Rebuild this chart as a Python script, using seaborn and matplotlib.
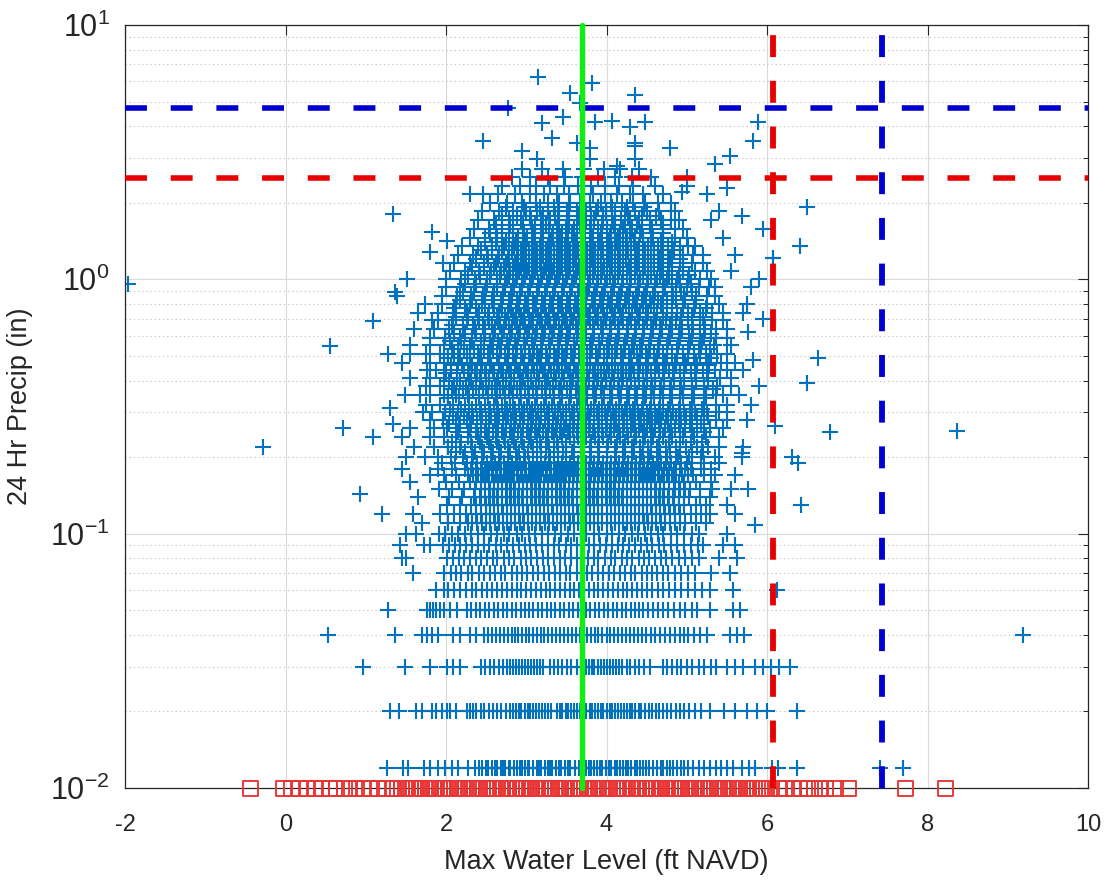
import numpy as np
import pandas as pd
import matplotlib
matplotlib.use("Agg")
import matplotlib.pyplot as plt
import seaborn as sns
from matplotlib.ticker import LogLocator, NullLocator, FixedLocator

# ---------------- data ----------------
# quantized low-precip rows: precip value -> water levels (ft NAVD)
low_precip = [0.012, 0.02, 0.03, 0.04, 0.05, 0.06, 0.07, 0.08, 0.09, 0.10]
low_levels = [
    [1.26, 1.47, 1.53, 1.72, 1.80, 1.90, 1.99, 2.08, 2.15, 2.28, 2.36, 2.41, 2.45, 2.50, 2.52, 2.57, 2.61, 2.63,
     2.68, 2.71, 2.73, 2.78, 2.80, 2.85, 2.89, 2.92, 2.95, 2.99, 3.02, 3.04, 3.09, 3.13, 3.16, 3.18, 3.23, 3.27,
     3.30, 3.32, 3.37, 3.41, 3.43, 3.48, 3.52, 3.55, 3.61, 3.66, 3.71, 3.74, 3.78, 3.81, 3.85, 3.88, 3.92, 3.95,
     3.99, 4.03, 4.06, 4.10, 4.13, 4.17, 4.20, 4.24, 4.27, 4.31, 4.35, 4.38, 4.42, 4.45, 4.49, 4.53, 4.58, 4.63,
     4.68, 4.71, 4.75, 4.79, 4.83, 4.88, 4.93, 4.96, 5.02, 5.08, 5.15, 5.21, 5.29, 5.36, 5.43, 5.50, 5.58, 5.69,
     5.77, 5.85, 6.06, 6.14, 6.37, 7.41, 7.70],
    [1.30, 1.42, 1.63, 1.70, 1.82, 1.88, 1.95, 2.01, 2.05, 2.13, 2.26, 2.30, 2.34, 2.38, 2.43, 2.47, 2.53, 2.58,
     2.64, 2.69, 2.75, 2.80, 2.84, 2.87, 2.91, 2.94, 2.98, 3.02, 3.05, 3.09, 3.12, 3.16, 3.20, 3.23, 3.27, 3.31,
     3.38, 3.42, 3.45, 3.49, 3.52, 3.56, 3.60, 3.63, 3.67, 3.71, 3.75, 3.79, 3.82, 3.86, 3.89, 3.93, 3.96, 4.00,
     4.04, 4.07, 4.11, 4.14, 4.18, 4.22, 4.25, 4.29, 4.32, 4.36, 4.40, 4.43, 4.48, 4.53, 4.57, 4.62, 4.66, 4.71,
     4.75, 4.80, 4.86, 4.91, 4.97, 5.03, 5.10, 5.18, 5.29, 5.46, 5.60, 5.75, 5.87, 6.00, 6.37],
    [0.97, 1.49, 1.80, 2.01, 2.09, 2.17, 2.44, 2.49, 2.55, 2.60, 2.66, 2.71, 2.76, 2.80, 2.84, 2.87, 2.91, 2.95,
     2.98, 3.02, 3.06, 3.10, 3.13, 3.17, 3.21, 3.29, 3.34, 3.40, 3.45, 3.51, 3.56, 3.63, 3.71, 3.74, 3.78, 3.82,
     3.85, 3.89, 3.93, 3.97, 4.00, 4.04, 4.08, 4.12, 4.15, 4.19, 4.25, 4.29, 4.35, 4.41, 4.47, 4.54, 4.71, 4.76,
     4.82, 4.88, 4.93, 5.00, 5.07, 5.15, 5.22, 5.30, 5.37, 5.50, 5.60, 5.70, 5.85, 5.95, 6.05, 6.15, 6.29],
    [0.53, 1.36, 1.70, 1.76, 1.83, 1.90, 2.09, 2.17, 2.30, 2.38, 2.47, 2.52, 2.57, 2.62, 2.67, 2.72, 2.77, 2.82,
     2.86, 2.90, 2.95, 3.00, 3.04, 3.09, 3.13, 3.18, 3.22, 3.27, 3.32, 3.37, 3.42, 3.47, 3.52, 3.57, 3.62, 3.67,
     3.72, 3.76, 3.81, 3.86, 3.90, 3.95, 4.00, 4.04, 4.09, 4.14, 4.19, 4.24, 4.29, 4.34, 4.39, 4.44, 4.49, 4.55,
     4.61, 4.67, 4.73, 4.79, 4.85, 4.91, 4.96, 5.02, 5.09, 5.16, 5.25, 5.54, 5.62, 5.71, 9.19],
    [1.28, 1.76, 1.80, 1.84, 1.88, 1.93, 1.97, 2.05, 2.14, 2.26, 2.31, 2.37, 2.42, 2.48, 2.54, 2.60, 2.65, 2.71,
     2.76, 2.82, 2.87, 2.93, 2.98, 3.04, 3.09, 3.15, 3.20, 3.26, 3.31, 3.36, 3.42, 3.47, 3.53, 3.58, 3.64, 3.69,
     3.75, 3.80, 3.86, 3.91, 3.97, 4.02, 4.08, 4.13, 4.19, 4.24, 4.30, 4.35, 4.41, 4.46, 4.52, 4.58, 4.64, 4.70,
     4.77, 4.84, 4.91, 4.98, 5.06, 5.13, 5.29, 5.58, 5.66],
    [1.88, 1.97, 2.03, 2.10, 2.18, 2.25, 2.32, 2.38, 2.45, 2.51, 2.57, 2.63, 2.70, 2.76, 2.82, 2.88, 2.94, 3.00,
     3.06, 3.12, 3.18, 3.24, 3.30, 3.36, 3.42, 3.48, 3.54, 3.60, 3.66, 3.72, 3.78, 3.84, 3.90, 3.96, 4.02, 4.08,
     4.14, 4.20, 4.26, 4.32, 4.38, 4.44, 4.50, 4.57, 4.64, 4.71, 4.78, 4.85, 4.93, 5.01, 5.10, 5.19, 5.29, 5.58, 6.12],
    [1.59, 1.98, 2.06, 2.13, 2.19, 2.27, 2.33, 2.41, 2.47, 2.55, 2.61, 2.68, 2.74, 2.82, 2.88, 2.95, 3.01, 3.09,
     3.15, 3.22, 3.28, 3.36, 3.42, 3.49, 3.55, 3.63, 3.69, 3.76, 3.82, 3.90, 3.96, 4.03, 4.09, 4.17, 4.23, 4.30,
     4.36, 4.44, 4.50, 4.57, 4.63, 4.71, 4.77, 4.85, 4.93, 5.02, 5.10, 5.30, 5.54],
    [1.45, 1.50, 2.01, 2.09, 2.16, 2.22, 2.30, 2.37, 2.43, 2.51, 2.58, 2.64, 2.72, 2.79, 2.85, 2.93, 3.00, 3.06,
     3.14, 3.21, 3.27, 3.35, 3.42, 3.48, 3.56, 3.63, 3.69, 3.77, 3.84, 3.90, 3.98, 4.05, 4.11, 4.19, 4.26, 4.32,
     4.40, 4.47, 4.53, 4.61, 4.68, 4.74, 4.82, 4.90, 4.98, 5.07, 5.15, 5.40, 5.63],
    [1.43, 1.72, 1.80, 1.96, 2.04, 2.11, 2.18, 2.25, 2.33, 2.40, 2.47, 2.54, 2.62, 2.69, 2.76, 2.83, 2.91, 2.98,
     3.05, 3.12, 3.20, 3.27, 3.34, 3.41, 3.49, 3.56, 3.63, 3.70, 3.78, 3.85, 3.92, 3.99, 4.07, 4.14, 4.21, 4.28,
     4.36, 4.43, 4.50, 4.57, 4.65, 4.72, 4.80, 4.88, 4.96, 5.05, 5.14, 5.20, 5.45, 5.60],
    [1.50, 1.62, 1.91, 1.99, 2.08, 2.15, 2.24, 2.31, 2.40, 2.47, 2.56, 2.63, 2.72, 2.79, 2.88, 2.95, 3.04, 3.11,
     3.20, 3.27, 3.36, 3.43, 3.52, 3.59, 3.68, 3.75, 3.84, 3.91, 4.00, 4.07, 4.16, 4.23, 4.32, 4.39, 4.48, 4.55,
     4.64, 4.71, 4.80, 4.88, 4.97, 5.06, 5.15, 5.50],
]

# main cloud (outer envelope): precip value -> water levels
cloud_precip = [0.11, 0.12, 0.13, 0.14, 0.15, 0.16, 0.17, 0.18, 0.19, 0.20, 0.22, 0.24, 0.26, 0.28, 0.30,
                0.32, 0.35, 0.38, 0.41, 0.44, 0.47, 0.51, 0.55, 0.59, 0.64, 0.69, 0.74, 0.80, 0.86, 0.93,
                1.00, 1.08, 1.16, 1.25, 1.35, 1.46, 1.58, 1.71, 1.85, 2.00, 2.16, 2.33, 2.52, 2.72]
cloud_levels = [
    [1.70, 2.02, 2.18, 2.33, 2.45, 2.55, 2.66, 2.76, 2.86, 2.97, 3.07, 3.17, 3.28, 3.38, 3.48, 3.59, 3.69, 3.79, 3.90, 4.00, 4.10, 4.21, 4.31, 4.41, 4.52, 4.62, 4.73, 4.85, 4.98, 5.12, 5.24],
    [1.93, 2.10, 2.25, 2.38, 2.50, 2.60, 2.71, 2.81, 2.91, 3.02, 3.12, 3.22, 3.33, 3.43, 3.53, 3.64, 3.74, 3.84, 3.95, 4.05, 4.15, 4.26, 4.36, 4.46, 4.57, 4.67, 4.79, 4.92, 5.05, 5.18, 5.29, 5.60],
    [2.01, 2.17, 2.31, 2.44, 2.55, 2.65, 2.76, 2.86, 2.96, 3.07, 3.17, 3.27, 3.38, 3.48, 3.58, 3.69, 3.79, 3.89, 4.00, 4.10, 4.20, 4.31, 4.41, 4.51, 4.62, 4.72, 4.84, 4.97, 5.11, 5.24, 5.50],
    [1.65, 2.04, 2.20, 2.35, 2.48, 2.59, 2.70, 2.80, 2.90, 3.01, 3.11, 3.21, 3.32, 3.42, 3.52, 3.63, 3.73, 3.83, 3.94, 4.04, 4.14, 4.25, 4.35, 4.45, 4.56, 4.66, 4.77, 4.90, 5.03, 5.16, 5.29],
    [1.91, 2.07, 2.22, 2.36, 2.49, 2.60, 2.70, 2.81, 2.91, 3.01, 3.12, 3.22, 3.32, 3.43, 3.53, 3.63, 3.74, 3.84, 3.94, 4.05, 4.15, 4.25, 4.36, 4.46, 4.56, 4.67, 4.78, 4.91, 5.04, 5.17, 5.31, 5.55, 5.76],
    [1.55, 2.00, 2.16, 2.30, 2.43, 2.54, 2.65, 2.75, 2.85, 2.96, 3.06, 3.16, 3.27, 3.37, 3.47, 3.58, 3.68, 3.78, 3.89, 3.99, 4.09, 4.20, 4.30, 4.40, 4.51, 4.61, 4.72, 4.84, 4.97, 5.12, 5.30],
    [1.80, 1.98, 2.13, 2.27, 2.40, 2.51, 2.62, 2.72, 2.82, 2.93, 3.03, 3.13, 3.24, 3.34, 3.44, 3.55, 3.65, 3.75, 3.86, 3.96, 4.06, 4.17, 4.27, 4.37, 4.48, 4.58, 4.69, 4.81, 4.94, 5.08, 5.22, 5.35, 5.60],
    [1.45, 1.90, 2.08, 2.24, 2.37, 2.49, 2.59, 2.69, 2.80, 2.90, 3.00, 3.11, 3.21, 3.31, 3.42, 3.52, 3.62, 3.73, 3.83, 3.93, 4.04, 4.14, 4.24, 4.35, 4.45, 4.55, 4.66, 4.78, 4.91, 5.05, 5.18, 5.30],
    [1.95, 2.11, 2.26, 2.39, 2.51, 2.61, 2.72, 2.82, 2.92, 3.03, 3.13, 3.23, 3.34, 3.44, 3.54, 3.65, 3.75, 3.85, 3.96, 4.06, 4.16, 4.27, 4.37, 4.47, 4.58, 4.68, 4.80, 4.93, 5.07, 5.22, 5.40],
    [1.50, 1.74, 1.90, 2.06, 2.21, 2.34, 2.46, 2.57, 2.67, 2.77, 2.88, 2.98, 3.08, 3.19, 3.29, 3.39, 3.50, 3.60, 3.70, 3.81, 3.91, 4.01, 4.12, 4.22, 4.32, 4.43, 4.53, 4.64, 4.76, 4.89, 5.03, 5.18, 5.35, 5.69],
    [1.60, 1.85, 2.02, 2.18, 2.32, 2.45, 2.56, 2.66, 2.77, 2.87, 2.97, 3.08, 3.18, 3.28, 3.39, 3.49, 3.59, 3.70, 3.80, 3.90, 4.01, 4.11, 4.21, 4.32, 4.42, 4.52, 4.63, 4.74, 4.86, 4.99, 5.13, 5.27, 5.40, 5.70],
    [1.45, 1.80, 1.97, 2.13, 2.27, 2.40, 2.51, 2.62, 2.72, 2.82, 2.93, 3.03, 3.13, 3.24, 3.34, 3.44, 3.55, 3.65, 3.75, 3.86, 3.96, 4.06, 4.17, 4.27, 4.37, 4.48, 4.58, 4.70, 4.82, 4.95, 5.09, 5.24, 5.40],
    [1.55, 1.85, 2.01, 2.16, 2.30, 2.43, 2.54, 2.65, 2.75, 2.85, 2.96, 3.06, 3.16, 3.27, 3.37, 3.47, 3.58, 3.68, 3.78, 3.89, 3.99, 4.09, 4.20, 4.30, 4.40, 4.51, 4.61, 4.73, 4.85, 4.98, 5.13, 5.29, 5.45],
    [1.80, 1.96, 2.12, 2.26, 2.39, 2.50, 2.61, 2.71, 2.81, 2.92, 3.02, 3.12, 3.23, 3.33, 3.43, 3.54, 3.64, 3.74, 3.85, 3.95, 4.05, 4.16, 4.26, 4.36, 4.47, 4.57, 4.68, 4.80, 4.93, 5.07, 5.22, 5.37, 5.50, 5.75],
    [1.71, 1.82, 1.99, 2.15, 2.29, 2.42, 2.53, 2.64, 2.74, 2.84, 2.95, 3.05, 3.15, 3.26, 3.36, 3.46, 3.57, 3.67, 3.77, 3.88, 3.98, 4.08, 4.19, 4.29, 4.39, 4.50, 4.60, 4.71, 4.83, 4.96, 5.10, 5.25, 5.40, 5.50],
    [1.75, 1.92, 2.09, 2.24, 2.37, 2.49, 2.60, 2.70, 2.80, 2.91, 3.01, 3.11, 3.22, 3.32, 3.42, 3.53, 3.63, 3.73, 3.84, 3.94, 4.04, 4.15, 4.25, 4.35, 4.46, 4.56, 4.67, 4.79, 4.92, 5.06, 5.21, 5.36, 5.50, 5.80],
    [1.49, 1.68, 1.80, 1.97, 2.13, 2.28, 2.41, 2.52, 2.63, 2.73, 2.83, 2.94, 3.04, 3.14, 3.25, 3.35, 3.45, 3.56, 3.66, 3.76, 3.87, 3.97, 4.07, 4.18, 4.28, 4.38, 4.49, 4.59, 4.70, 4.82, 4.95, 5.09, 5.24, 5.37, 5.45, 5.65],
    [1.75, 1.93, 2.10, 2.25, 2.38, 2.50, 2.61, 2.71, 2.81, 2.92, 3.02, 3.12, 3.23, 3.33, 3.43, 3.54, 3.64, 3.74, 3.85, 3.95, 4.05, 4.16, 4.26, 4.36, 4.47, 4.57, 4.68, 4.80, 4.93, 5.07, 5.22, 5.38, 5.55, 5.90],
    [1.55, 1.80, 1.98, 2.14, 2.29, 2.42, 2.54, 2.65, 2.75, 2.85, 2.96, 3.06, 3.16, 3.27, 3.37, 3.47, 3.58, 3.68, 3.78, 3.89, 3.99, 4.09, 4.20, 4.30, 4.40, 4.51, 4.61, 4.72, 4.84, 4.97, 5.11, 5.26, 5.41, 5.55],
    [1.76, 1.88, 2.06, 2.22, 2.36, 2.48, 2.59, 2.69, 2.79, 2.90, 3.00, 3.10, 3.21, 3.31, 3.41, 3.52, 3.62, 3.72, 3.83, 3.93, 4.03, 4.14, 4.24, 4.34, 4.45, 4.55, 4.66, 4.78, 4.91, 5.05, 5.20, 5.35, 5.50, 5.70],
    [1.45, 1.80, 1.98, 2.15, 2.30, 2.43, 2.55, 2.66, 2.76, 2.86, 2.97, 3.07, 3.17, 3.28, 3.38, 3.48, 3.59, 3.69, 3.79, 3.90, 4.00, 4.10, 4.21, 4.31, 4.41, 4.52, 4.62, 4.73, 4.85, 4.98, 5.12, 5.27, 5.43, 5.60],
    [1.28, 1.55, 1.75, 1.93, 2.10, 2.26, 2.40, 2.52, 2.63, 2.73, 2.83, 2.94, 3.04, 3.14, 3.25, 3.35, 3.45, 3.56, 3.66, 3.76, 3.87, 3.97, 4.07, 4.18, 4.28, 4.38, 4.49, 4.59, 4.70, 4.82, 4.95, 5.09, 5.24, 5.38, 5.50],
    [1.55, 1.80, 1.98, 2.15, 2.30, 2.44, 2.56, 2.67, 2.77, 2.87, 2.98, 3.08, 3.18, 3.29, 3.39, 3.49, 3.60, 3.70, 3.80, 3.91, 4.01, 4.11, 4.22, 4.32, 4.42, 4.53, 4.64, 4.76, 4.89, 5.03, 5.18, 5.34, 5.55],
    [1.80, 1.99, 2.17, 2.33, 2.47, 2.59, 2.70, 2.80, 2.90, 3.01, 3.11, 3.21, 3.32, 3.42, 3.52, 3.63, 3.73, 3.83, 3.94, 4.04, 4.14, 4.25, 4.35, 4.45, 4.56, 4.67, 4.79, 4.92, 5.06, 5.21, 5.36, 5.50],
    [1.60, 1.85, 2.04, 2.21, 2.36, 2.49, 2.61, 2.72, 2.82, 2.92, 3.03, 3.13, 3.23, 3.34, 3.44, 3.54, 3.65, 3.75, 3.85, 3.96, 4.06, 4.16, 4.27, 4.37, 4.47, 4.58, 4.69, 4.81, 4.94, 5.08, 5.23, 5.37, 5.50],
    [1.83, 1.90, 2.09, 2.26, 2.41, 2.54, 2.65, 2.75, 2.86, 2.96, 3.06, 3.17, 3.27, 3.37, 3.48, 3.58, 3.68, 3.79, 3.89, 3.99, 4.10, 4.20, 4.30, 4.41, 4.51, 4.62, 4.74, 4.87, 5.01, 5.16, 5.31, 5.45],
    [1.65, 1.90, 2.09, 2.26, 2.41, 2.54, 2.66, 2.77, 2.87, 2.97, 3.08, 3.18, 3.28, 3.39, 3.49, 3.59, 3.70, 3.80, 3.90, 4.01, 4.11, 4.21, 4.32, 4.42, 4.52, 4.63, 4.75, 4.88, 5.02, 5.17, 5.32, 5.45, 5.70],
    [1.74, 1.95, 2.13, 2.30, 2.45, 2.58, 2.69, 2.80, 2.90, 3.00, 3.11, 3.21, 3.31, 3.42, 3.52, 3.62, 3.73, 3.83, 3.93, 4.04, 4.14, 4.24, 4.35, 4.45, 4.56, 4.68, 4.81, 4.95, 5.10, 5.25, 5.40, 5.75],
    [1.39, 1.95, 2.14, 2.31, 2.46, 2.59, 2.71, 2.82, 2.92, 3.02, 3.13, 3.23, 3.33, 3.44, 3.54, 3.64, 3.75, 3.85, 3.95, 4.06, 4.16, 4.26, 4.37, 4.47, 4.58, 4.70, 4.83, 4.97, 5.12, 5.25, 5.35],
    [2.00, 2.18, 2.35, 2.50, 2.63, 2.74, 2.85, 2.95, 3.05, 3.16, 3.26, 3.36, 3.47, 3.57, 3.67, 3.78, 3.88, 3.98, 4.09, 4.19, 4.29, 4.40, 4.50, 4.61, 4.73, 4.86, 5.00, 5.15, 5.28, 5.35, 5.80],
    [1.51, 2.00, 2.19, 2.36, 2.51, 2.64, 2.76, 2.87, 2.97, 3.07, 3.18, 3.28, 3.38, 3.49, 3.59, 3.69, 3.80, 3.90, 4.00, 4.11, 4.21, 4.31, 4.42, 4.52, 4.63, 4.75, 4.88, 5.02, 5.17, 5.30, 5.90],
    [2.05, 2.24, 2.41, 2.56, 2.69, 2.80, 2.91, 3.01, 3.11, 3.22, 3.32, 3.42, 3.53, 3.63, 3.73, 3.84, 3.94, 4.04, 4.15, 4.25, 4.35, 4.46, 4.56, 4.68, 4.81, 4.95, 5.10, 5.25, 5.55],
    [1.96, 2.10, 2.30, 2.47, 2.62, 2.75, 2.86, 2.96, 3.07, 3.17, 3.27, 3.38, 3.48, 3.58, 3.69, 3.79, 3.89, 4.00, 4.10, 4.20, 4.31, 4.41, 4.52, 4.64, 4.77, 4.91, 5.06, 5.20],
    [2.15, 2.34, 2.51, 2.66, 2.79, 2.90, 3.00, 3.11, 3.21, 3.31, 3.42, 3.52, 3.62, 3.73, 3.83, 3.93, 4.04, 4.14, 4.24, 4.35, 4.45, 4.56, 4.68, 4.81, 4.95, 5.08, 5.20, 5.60],
    [2.20, 2.40, 2.57, 2.72, 2.85, 2.96, 3.07, 3.17, 3.27, 3.38, 3.48, 3.58, 3.69, 3.79, 3.89, 4.00, 4.10, 4.20, 4.31, 4.41, 4.52, 4.64, 4.77, 4.91, 5.02, 5.10],
    [2.30, 2.48, 2.64, 2.78, 2.90, 3.01, 3.11, 3.21, 3.32, 3.42, 3.52, 3.63, 3.73, 3.83, 3.94, 4.04, 4.14, 4.25, 4.35, 4.46, 4.58, 4.71, 4.85, 5.00, 5.45],
    [2.35, 2.54, 2.70, 2.84, 2.96, 3.07, 3.18, 3.28, 3.38, 3.49, 3.59, 3.69, 3.80, 3.90, 4.00, 4.11, 4.21, 4.32, 4.44, 4.57, 4.71, 4.85, 4.95],
    [2.40, 2.60, 2.78, 2.93, 3.06, 3.18, 3.30, 3.41, 3.52, 3.63, 3.74, 3.85, 3.96, 4.07, 4.18, 4.29, 4.41, 4.54, 4.68, 4.80, 4.90, 5.30],
    [2.45, 2.66, 2.84, 3.00, 3.14, 3.27, 3.39, 3.51, 3.63, 3.75, 3.87, 3.99, 4.11, 4.23, 4.36, 4.50, 4.65, 4.85, 5.40],
    [2.55, 2.76, 2.95, 3.12, 3.27, 3.41, 3.54, 3.67, 3.80, 3.93, 4.06, 4.19, 4.33, 4.48, 4.64, 4.80],
    [2.30, 2.46, 2.65, 2.86, 3.05, 3.22, 3.38, 3.53, 3.68, 3.83, 3.98, 4.13, 4.29, 4.46, 4.70, 5.25],
    [2.70, 2.92, 3.12, 3.30, 3.47, 3.64, 3.81, 3.98, 4.15, 4.33, 4.60, 5.00],
    [2.82, 3.05, 3.27, 3.48, 3.69, 3.90, 4.11, 4.32, 4.55, 5.00],
    [2.95, 3.20, 3.46, 3.72, 3.97, 4.17, 4.40],
]

# main cloud (dense core): precip value -> water levels
core_precip = [0.11, 0.12, 0.13, 0.14, 0.15, 0.16, 0.17, 0.18, 0.19, 0.21, 0.23, 0.25, 0.27, 0.29, 0.31,
               0.34, 0.37, 0.40, 0.43, 0.46, 0.49, 0.53, 0.57, 0.61, 0.66, 0.71, 0.77, 0.83, 0.89, 0.96,
               1.04, 1.12, 1.20, 1.30, 1.40, 1.52, 1.64, 1.78, 1.92]
core_levels = [
    [2.28, 2.39, 2.50, 2.61, 2.71, 2.81, 2.92, 3.02, 3.12, 3.23, 3.33, 3.43, 3.54, 3.64, 3.74, 3.85, 3.95, 4.05, 4.16, 4.26, 4.36, 4.47, 4.57, 4.68, 4.79, 4.91],
    [2.44, 2.55, 2.65, 2.76, 2.86, 2.96, 3.07, 3.17, 3.27, 3.38, 3.48, 3.58, 3.69, 3.79, 3.89, 4.00, 4.10, 4.20, 4.31, 4.41, 4.51, 4.62, 4.73, 4.85],
    [2.37, 2.50, 2.60, 2.70, 2.81, 2.91, 3.01, 3.12, 3.22, 3.32, 3.43, 3.53, 3.63, 3.74, 3.84, 3.94, 4.05, 4.15, 4.25, 4.36, 4.46, 4.56, 4.67, 4.78, 4.90],
    [2.42, 2.54, 2.64, 2.75, 2.85, 2.95, 3.06, 3.16, 3.26, 3.37, 3.47, 3.57, 3.68, 3.78, 3.88, 3.99, 4.09, 4.19, 4.30, 4.40, 4.50, 4.61, 4.71, 4.83, 4.96],
    [2.43, 2.55, 2.65, 2.76, 2.86, 2.96, 3.07, 3.17, 3.27, 3.38, 3.48, 3.58, 3.69, 3.79, 3.89, 4.00, 4.10, 4.20, 4.31, 4.41, 4.51, 4.62, 4.72, 4.85, 4.98],
    [2.37, 2.49, 2.60, 2.70, 2.80, 2.91, 3.01, 3.11, 3.22, 3.32, 3.42, 3.53, 3.63, 3.73, 3.84, 3.94, 4.04, 4.15, 4.25, 4.35, 4.46, 4.56, 4.67, 4.78, 4.90],
    [2.34, 2.46, 2.57, 2.67, 2.77, 2.88, 2.98, 3.08, 3.19, 3.29, 3.39, 3.50, 3.60, 3.70, 3.81, 3.91, 4.01, 4.12, 4.22, 4.32, 4.43, 4.53, 4.64, 4.75, 4.87, 5.01],
    [2.31, 2.43, 2.54, 2.64, 2.75, 2.85, 2.95, 3.06, 3.16, 3.26, 3.37, 3.47, 3.57, 3.68, 3.78, 3.88, 3.99, 4.09, 4.19, 4.30, 4.40, 4.50, 4.61, 4.72, 4.84, 4.98],
    [2.33, 2.45, 2.56, 2.66, 2.77, 2.87, 2.97, 3.08, 3.18, 3.28, 3.39, 3.49, 3.59, 3.70, 3.80, 3.90, 4.01, 4.11, 4.21, 4.32, 4.42, 4.52, 4.63, 4.74, 4.86, 5.00],
    [2.12, 2.24, 2.36, 2.47, 2.58, 2.69, 2.80, 2.91, 3.02, 3.13, 3.24, 3.35, 3.46, 3.57, 3.68, 3.79, 3.90, 4.01, 4.12, 4.23, 4.34, 4.45, 4.56, 4.67, 4.79, 4.92, 5.06, 5.20],
    [2.07, 2.19, 2.31, 2.42, 2.53, 2.63, 2.74, 2.85, 2.95, 3.06, 3.17, 3.27, 3.38, 3.49, 3.59, 3.70, 3.81, 3.91, 4.02, 4.13, 4.23, 4.34, 4.45, 4.55, 4.66, 4.78, 4.91, 5.05, 5.19],
    [2.15, 2.27, 2.38, 2.49, 2.59, 2.70, 2.80, 2.90, 3.01, 3.11, 3.21, 3.32, 3.42, 3.52, 3.63, 3.73, 3.83, 3.94, 4.04, 4.14, 4.25, 4.35, 4.45, 4.56, 4.67, 4.79, 4.92, 5.07, 5.22],
    [2.04, 2.18, 2.31, 2.43, 2.54, 2.64, 2.75, 2.86, 2.96, 3.07, 3.17, 3.28, 3.38, 3.49, 3.59, 3.70, 3.80, 3.91, 4.01, 4.12, 4.22, 4.33, 4.43, 4.54, 4.65, 4.77, 4.90, 5.04, 5.18],
    [2.09, 2.22, 2.34, 2.45, 2.56, 2.66, 2.77, 2.87, 2.97, 3.08, 3.18, 3.28, 3.39, 3.49, 3.59, 3.70, 3.80, 3.90, 4.01, 4.11, 4.21, 4.32, 4.42, 4.52, 4.63, 4.74, 4.86, 4.99, 5.13, 5.27],
    [2.05, 2.19, 2.32, 2.44, 2.55, 2.65, 2.76, 2.86, 2.97, 3.07, 3.18, 3.28, 3.39, 3.49, 3.60, 3.70, 3.81, 3.91, 4.02, 4.12, 4.23, 4.33, 4.44, 4.54, 4.65, 4.77, 4.90, 5.04, 5.19],
    [2.02, 2.16, 2.29, 2.41, 2.52, 2.62, 2.73, 2.83, 2.93, 3.04, 3.14, 3.24, 3.35, 3.45, 3.55, 3.66, 3.76, 3.86, 3.97, 4.07, 4.17, 4.28, 4.38, 4.48, 4.59, 4.70, 4.82, 4.95, 5.09, 5.24],
    [2.07, 2.21, 2.34, 2.46, 2.57, 2.67, 2.78, 2.88, 2.99, 3.09, 3.20, 3.30, 3.41, 3.51, 3.62, 3.72, 3.83, 3.93, 4.04, 4.14, 4.25, 4.35, 4.46, 4.56, 4.67, 4.79, 4.92, 5.06, 5.21, 5.33],
    [2.04, 2.18, 2.31, 2.43, 2.54, 2.64, 2.75, 2.85, 2.95, 3.06, 3.16, 3.26, 3.37, 3.47, 3.57, 3.68, 3.78, 3.88, 3.99, 4.09, 4.19, 4.30, 4.40, 4.50, 4.61, 4.72, 4.84, 4.97, 5.12, 5.27],
    [2.00, 2.14, 2.27, 2.39, 2.50, 2.60, 2.71, 2.81, 2.92, 3.02, 3.13, 3.23, 3.34, 3.44, 3.55, 3.65, 3.76, 3.86, 3.97, 4.07, 4.18, 4.28, 4.39, 4.49, 4.60, 4.71, 4.83, 4.96, 5.10, 5.25],
    [2.06, 2.20, 2.33, 2.45, 2.56, 2.66, 2.77, 2.87, 2.97, 3.08, 3.18, 3.28, 3.39, 3.49, 3.59, 3.70, 3.80, 3.90, 4.01, 4.11, 4.21, 4.32, 4.42, 4.52, 4.63, 4.74, 4.86, 4.99, 5.13, 5.28],
    [2.03, 2.17, 2.30, 2.42, 2.53, 2.63, 2.74, 2.84, 2.95, 3.05, 3.16, 3.26, 3.37, 3.47, 3.58, 3.68, 3.79, 3.89, 4.00, 4.10, 4.21, 4.31, 4.42, 4.52, 4.63, 4.75, 4.88, 5.02, 5.17, 5.30],
    [2.08, 2.22, 2.35, 2.47, 2.58, 2.68, 2.79, 2.89, 2.99, 3.10, 3.20, 3.30, 3.41, 3.51, 3.61, 3.72, 3.82, 3.92, 4.03, 4.13, 4.23, 4.34, 4.44, 4.54, 4.65, 4.76, 4.88, 5.01, 5.15, 5.29],
    [2.05, 2.19, 2.32, 2.44, 2.55, 2.65, 2.76, 2.86, 2.97, 3.07, 3.18, 3.28, 3.39, 3.49, 3.60, 3.70, 3.81, 3.91, 4.02, 4.12, 4.23, 4.33, 4.44, 4.54, 4.65, 4.77, 4.90, 5.04, 5.19],
    [2.10, 2.24, 2.37, 2.49, 2.60, 2.70, 2.81, 2.91, 3.01, 3.12, 3.22, 3.32, 3.43, 3.53, 3.63, 3.74, 3.84, 3.94, 4.05, 4.15, 4.25, 4.36, 4.46, 4.56, 4.67, 4.78, 4.90, 5.03, 5.17, 5.30],
    [2.07, 2.21, 2.34, 2.46, 2.57, 2.67, 2.78, 2.88, 2.99, 3.09, 3.20, 3.30, 3.41, 3.51, 3.62, 3.72, 3.83, 3.93, 4.04, 4.14, 4.25, 4.35, 4.46, 4.56, 4.67, 4.79, 4.92, 5.06, 5.21],
    [2.13, 2.27, 2.40, 2.52, 2.63, 2.73, 2.84, 2.94, 3.04, 3.15, 3.25, 3.35, 3.46, 3.56, 3.66, 3.77, 3.87, 3.97, 4.08, 4.18, 4.28, 4.39, 4.49, 4.59, 4.70, 4.81, 4.93, 5.06, 5.20],
    [2.10, 2.24, 2.37, 2.49, 2.60, 2.70, 2.81, 2.91, 3.02, 3.12, 3.23, 3.33, 3.44, 3.54, 3.65, 3.75, 3.86, 3.96, 4.07, 4.17, 4.28, 4.38, 4.49, 4.59, 4.70, 4.82, 4.95, 5.09, 5.24],
    [2.18, 2.32, 2.45, 2.57, 2.68, 2.78, 2.89, 2.99, 3.09, 3.20, 3.30, 3.40, 3.51, 3.61, 3.71, 3.82, 3.92, 4.02, 4.13, 4.23, 4.33, 4.44, 4.54, 4.64, 4.75, 4.86, 4.98, 5.11],
    [2.21, 2.35, 2.48, 2.60, 2.71, 2.81, 2.92, 3.02, 3.13, 3.23, 3.34, 3.44, 3.55, 3.65, 3.76, 3.86, 3.97, 4.07, 4.18, 4.28, 4.39, 4.49, 4.60, 4.70, 4.81, 4.93, 5.06],
    [2.24, 2.38, 2.51, 2.63, 2.74, 2.84, 2.95, 3.05, 3.15, 3.26, 3.36, 3.46, 3.57, 3.67, 3.77, 3.88, 3.98, 4.08, 4.19, 4.29, 4.39, 4.50, 4.60, 4.70, 4.81, 4.92, 5.05],
    [2.28, 2.42, 2.55, 2.67, 2.78, 2.88, 2.99, 3.09, 3.20, 3.30, 3.41, 3.51, 3.62, 3.72, 3.83, 3.93, 4.04, 4.14, 4.25, 4.35, 4.46, 4.56, 4.67, 4.78, 4.90, 5.03],
    [2.33, 2.47, 2.60, 2.72, 2.83, 2.93, 3.04, 3.14, 3.24, 3.35, 3.45, 3.55, 3.66, 3.76, 3.86, 3.97, 4.07, 4.17, 4.28, 4.38, 4.48, 4.59, 4.70, 4.82, 4.95],
    [2.38, 2.52, 2.65, 2.77, 2.88, 2.98, 3.09, 3.19, 3.30, 3.40, 3.51, 3.61, 3.72, 3.82, 3.93, 4.03, 4.14, 4.24, 4.35, 4.45, 4.56, 4.67, 4.79, 4.92],
    [2.43, 2.57, 2.70, 2.82, 2.93, 3.03, 3.14, 3.24, 3.34, 3.45, 3.55, 3.65, 3.76, 3.86, 3.96, 4.07, 4.17, 4.27, 4.38, 4.48, 4.59, 4.71, 4.84],
    [2.48, 2.62, 2.75, 2.87, 2.98, 3.08, 3.19, 3.29, 3.40, 3.50, 3.61, 3.71, 3.82, 3.92, 4.03, 4.13, 4.24, 4.34, 4.45, 4.56, 4.68, 4.81],
    [2.55, 2.70, 2.84, 2.97, 3.09, 3.21, 3.33, 3.45, 3.57, 3.69, 3.81, 3.93, 4.05, 4.17, 4.29, 4.42, 4.56, 4.71],
    [2.62, 2.80, 2.96, 3.11, 3.25, 3.39, 3.53, 3.67, 3.81, 3.95, 4.09, 4.23, 4.38, 4.54, 4.70],
    [2.70, 2.88, 3.05, 3.21, 3.36, 3.51, 3.66, 3.81, 3.96, 4.11, 4.27, 4.44, 4.62],
    [2.75, 2.97, 3.17, 3.35, 3.53, 3.71, 3.89, 4.07, 4.26, 4.47],
]

# scattered outliers (water level, precip)
outlier_level = [5.85, 1.20, 1.59, 0.93, 6.79, 8.37, 1.34, 1.30, 6.50, 6.64, 5.83, 1.09, 5.95, 5.76, 1.36,
                 -1.96, 6.07, 1.80, 2.01, 1.83, 5.69, 1.34, 6.50, 4.94, 5.50, 4.13, 5.35, 3.13, 3.79, 4.36,
                 5.54, 2.95, 3.79, 4.79, 4.36, 3.63, 4.36, 2.46, 5.83, 3.32, 3.20, 3.86, 4.48, 5.89, 4.07,
                 4.29, 3.46, 2.77, 3.67, 4.36, 3.55, 3.82, 3.15, -0.28, 0.55, 0.72, 1.09, 6.10, 6.31, 6.39,
                 6.42, 6.41, 5.95, 6.07, 5.69]
outlier_precip = [0.108, 0.119, 0.119, 0.143, 0.25, 0.253, 0.27, 0.313, 0.39, 0.49, 0.48, 0.684, 0.70, 0.62, 0.89,
                  0.955, 1.21, 1.28, 1.42, 1.53, 1.77, 1.80, 1.92, 2.20, 2.29, 2.78, 2.84, 2.98, 2.98, 2.98,
                  3.05, 3.20, 3.27, 3.27, 3.33, 3.45, 3.45, 3.50, 3.50, 3.60, 4.10, 4.15, 4.15, 4.15, 4.20,
                  3.98, 4.35, 4.70, 4.95, 5.30, 5.40, 5.90, 6.24, 0.22, 0.545, 0.261, 0.24, 0.265, 0.20, 0.19,
                  0.13, 1.35, 1.58, 1.21, 0.208]

# days without precipitation, drawn at the axis floor (0.01 in)
dry_floor = 0.01
dry_level = [-0.44, -0.03, 0.08, 0.18, 0.28, 0.37, 0.45, 0.55, 0.64, 0.74, 0.80, 0.89, 0.97, 1.05, 1.15, 1.26,
             1.34, 1.40, 1.45, 1.49, 1.52, 1.56, 1.60, 1.63, 1.67, 1.70, 1.74, 1.78, 1.81, 1.85, 1.88, 1.92,
             1.96, 1.99, 2.03, 2.06, 2.10, 2.14, 2.17, 2.21, 2.24, 2.28, 2.32, 2.35, 2.39, 2.42, 2.46, 2.50,
             2.53, 2.57, 2.60, 2.64, 2.68, 2.71, 2.75, 2.78, 2.82, 2.86, 2.89, 2.93, 2.96, 3.00, 3.04, 3.07,
             3.11, 3.14, 3.18, 3.22, 3.25, 3.29, 3.32, 3.36, 3.40, 3.43, 3.47, 3.50, 3.54, 3.58, 3.61, 3.65,
             3.68, 3.72, 3.76, 3.79, 3.83, 3.86, 3.90, 3.94, 3.97, 4.01, 4.04, 4.08, 4.12, 4.15, 4.19, 4.22,
             4.26, 4.30, 4.33, 4.37, 4.40, 4.44, 4.48, 4.51, 4.55, 4.58, 4.62, 4.66, 4.69, 4.73, 4.76, 4.80,
             4.84, 4.87, 4.91, 4.94, 4.98, 5.02, 5.05, 5.09, 5.12, 5.16, 5.20, 5.23, 5.27, 5.30, 5.34, 5.38,
             5.41, 5.45, 5.48, 5.52, 5.56, 5.59, 5.63, 5.66, 5.70, 5.74, 5.77, 5.81, 5.84, 5.88, 5.92, 5.95,
             5.99, 6.03, 6.15, 6.24, 6.33, 6.40, 6.50, 6.59, 6.66, 6.73, 6.85, 7.02, 7.72, 8.23]

# reference lines
mean_level = 3.69
level_thresh = [6.07, 7.43]     # red, blue
precip_thresh = [2.5, 4.7]      # red, blue
thresh_colors = ["#e80000", "#0000d0"]

# ---------------- assemble ----------------
xs, ys = [], []
for p, lv in zip(low_precip + cloud_precip + core_precip, low_levels + cloud_levels + core_levels):
    xs.extend(lv)
    ys.extend([p] * len(lv))
xs.extend(outlier_level)
ys.extend(outlier_precip)
wet = pd.DataFrame({"level": xs, "precip": ys})
dry = pd.DataFrame({"level": dry_level, "precip": [dry_floor] * len(dry_level)})

# ---------------- plot ----------------
sns.set_theme(style="white")
plt.rcParams["font.family"] = ["Liberation Sans", "DejaVu Sans"]
plt.rcParams["mathtext.fontset"] = "custom"
plt.rcParams["mathtext.rm"] = "Liberation Sans"
plt.rcParams["axes.unicode_minus"] = False
plt.rcParams["lines.scale_dashes"] = False

txt = "#262626"
fig = plt.figure(figsize=(11.12, 8.84), dpi=100)
ax = fig.add_axes([125 / 1112, 1 - 788 / 884, (1088 - 125) / 1112, (788 - 25) / 884])

sns.scatterplot(data=wet, x="level", y="precip", marker="+", s=12.2 ** 2, linewidth=1.5,
                color="#0072BD", ax=ax, legend=False, zorder=2)
sns.scatterplot(data=dry, x="level", y="precip", marker="s", s=10.8 ** 2, linewidth=1.35,
                facecolor="none", edgecolor="#ea3434", ax=ax, legend=False, zorder=3, clip_on=False)

ax.set_yscale("log")
ax.set_xlim(-2, 10)
ax.set_ylim(0.01, 10)

dash = (15.8, 17.1)
off = 25.6
for pt, c in zip(precip_thresh, thresh_colors):
    ax.plot([-2, 10], [pt, pt], color=c, lw=4.0, linestyle=(0, dash), dash_capstyle="butt", zorder=4)
for lt, c in zip(level_thresh, thresh_colors):
    ax.plot([lt, lt], [10, 0.01], color=c, lw=4.2, linestyle=(off, dash), dash_capstyle="butt", zorder=4)
ax.plot([mean_level, mean_level], [10, 0.01], color="#11ee11", lw=3.9, zorder=5,
        solid_capstyle="round", clip_on=False)

# grid & ticks
ax.set_axisbelow(True)
ax.xaxis.set_major_locator(FixedLocator([-2, 0, 2, 4, 6, 8, 10]))
ax.xaxis.set_minor_locator(NullLocator())
ax.yaxis.set_major_locator(LogLocator(base=10, numticks=10))
ax.yaxis.set_minor_locator(LogLocator(base=10, subs=np.arange(2, 10), numticks=20))
ax.grid(True, which="major", color="#dadada", lw=0.8, ls="-")
ax.grid(True, which="minor", axis="y", color="#c8c8c8", lw=0.8, ls=(0, (1, 2)))
ax.tick_params(which="both", direction="in", top=True, right=True, colors=txt, labelcolor=txt)
ax.tick_params(axis="x", labelsize=17, pad=19)
ax.tick_params(axis="y", labelsize=22, pad=11)
ax.tick_params(which="major", length=7, width=0.8)
ax.tick_params(which="minor", length=3.5, width=0.7)
for s in ax.spines.values():
    s.set_color(txt)
    s.set_linewidth(0.9)

ax.set_xlabel("Max Water Level (ft NAVD)", fontsize=19.5, color=txt)
ax.set_ylabel("24 Hr Precip (in)", fontsize=19.5, color=txt)
ax.xaxis.set_label_coords(0.5, -0.080)
ax.yaxis.set_label_coords(-0.0955, 0.5)

fig.savefig("out.png", dpi=100, facecolor="white")
